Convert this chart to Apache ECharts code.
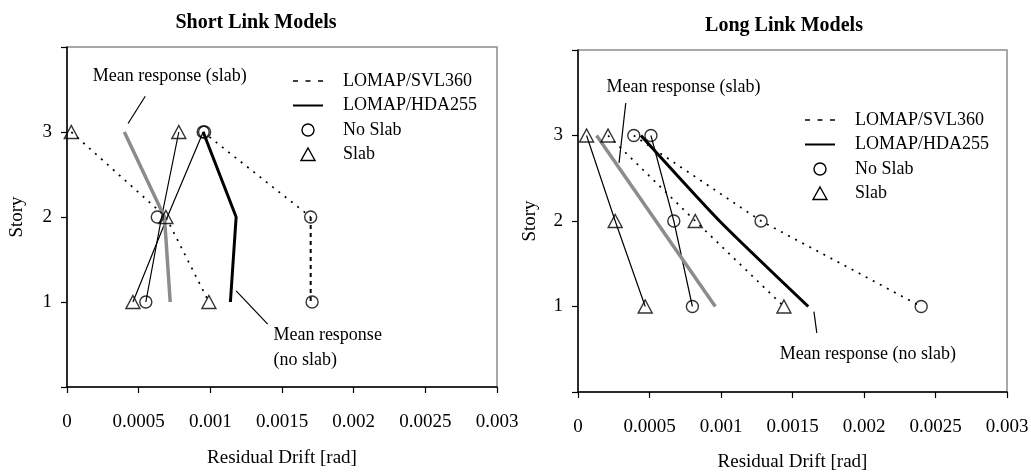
<!DOCTYPE html>
<html>
<head>
<meta charset="utf-8">
<script src="https://cdn.jsdelivr.net/npm/echarts@6/dist/echarts.min.js"></script>
<style>
html,body{margin:0;padding:0;background:#fff;}
#c{width:1031px;height:472px;}
</style>
</head>
<body>
<div id="c"></div>
<script>
// ---------- DATA ----------
const xTicks = [0, 0.0005, 0.001, 0.0015, 0.002, 0.0025, 0.003];
const yTicks = [1, 2, 3];
const legendNames = ['LOMAP/SVL360', 'LOMAP/HDA255', 'No Slab', 'Slab'];

// Short link models: [drift, story]
const shortSvlSlab = [[0.00003, 3], [0.00069, 2], [0.00099, 1]];
const shortSvlNoSlabUpper = [[0.00095, 3], [0.0017, 2]];
const shortSvlNoSlabLower = [[0.0017, 2], [0.0017, 1]];
const shortHdaA = [[0.00046, 1], [0.0007, 2], [0.00095, 3]];
const shortHdaB = [[0.00055, 1], [0.00066, 2], [0.00078, 3]];
const shortMeanSlab = [[0.0004, 3], [0.00068, 2], [0.00072, 1]];
const shortMeanNoSlab = [[0.00095, 3], [0.00118, 2], [0.00114, 1]];
const shortCircles = [[0.00095, 3], [0.00096, 3], [0.00063, 2], [0.00055, 1], [0.0017, 2], [0.00171, 1]];
const shortTriangles = [[0.00003, 3], [0.00078, 3], [0.00069, 2], [0.00046, 1], [0.00099, 1]];

// Long link models
const longSvlSlab = [[0.00021, 3], [0.00082, 2], [0.00144, 1]];
const longSvlNoSlab = [[0.00039, 3], [0.00128, 2], [0.0024, 1]];
const longHdaSlab = [[0.00006, 3], [0.00026, 2], [0.00047, 1]];
const longHdaNoSlab = [[0.00051, 3], [0.00067, 2], [0.0008, 1]];
const longMeanSlab = [[0.00013, 3], [0.00096, 1]];
const longMeanNoSlab = [[0.00044, 3], [0.00099, 2], [0.00161, 1]];
const longCircles = [[0.00039, 3], [0.00051, 3], [0.00067, 2], [0.00128, 2], [0.0008, 1], [0.0024, 1]];
const longTriangles = [[0.00006, 3], [0.00021, 3], [0.00026, 2], [0.00082, 2], [0.00047, 1], [0.00144, 1]];

// Annotations (data coordinates)
const annotations = [
  {grid: 0, text: 'Mean response (slab)', at: [0.00018, 3.66], line: [[0.000546, 3.42], [0.000426, 3.10]]},
  {grid: 0, text: 'Mean response\n(no slab)', at: [0.00144, 0.46], line: [[0.00118, 1.13], [0.0014, 0.74]]},
  {grid: 1, text: 'Mean response (slab)', at: [0.0002, 3.56], line: [[0.000334, 3.38], [0.000287, 2.68]]},
  {grid: 1, text: 'Mean response (no slab)', at: [0.00141, 0.44], line: [[0.00165, 0.94], [0.00167, 0.69]]}
];

// ---------- OPTION ----------
const FONT = 'Liberation Serif';
const chart = echarts.init(document.getElementById('c'), null, {renderer: 'canvas'});

function xAxis(gi, labelMargin, nameGap) {
  return {
    type: 'value', gridIndex: gi, min: 0, max: 0.003, interval: 0.0005,
    name: 'Residual Drift [rad]', nameLocation: 'middle', nameGap: nameGap,
    nameTextStyle: {fontFamily: FONT, fontSize: 19, color: '#000'},
    axisLine: {show: true, lineStyle: {color: '#000', width: 1.5}},
    axisTick: {show: true, inside: false, length: 6, lineStyle: {color: '#000', width: 1.2}},
    axisLabel: {margin: labelMargin, fontFamily: FONT, fontSize: 19, color: '#000',
      formatter: v => { const r = +(+v).toFixed(4); return xTicks.indexOf(r) >= 0 ? String(r) : ''; }},
    splitLine: {show: false}
  };
}
function yAxis(gi, gap) {
  return {
    type: 'value', gridIndex: gi, min: 0, max: 4, interval: 1,
    name: 'Story', nameLocation: 'middle', nameGap: gap, nameRotate: 90,
    nameTextStyle: {fontFamily: FONT, fontSize: 19, color: '#000'},
    axisLine: {show: true, lineStyle: {color: '#000', width: 1.5}},
    axisTick: {show: true, inside: false, length: 6, lineStyle: {color: '#000', width: 1.2}},
    axisLabel: {margin: 15, fontFamily: FONT, fontSize: 19, color: '#000',
      formatter: v => yTicks.indexOf(v) >= 0 ? String(v) : ''},
    splitLine: {show: false}
  };
}

const dotted = {color: '#000', width: 1.7, type: [2, 6]};
const thin = {color: '#000', width: 1.2};
const thickBlack = {color: '#000', width: 3};
const thickGray = {color: '#8c8c8c', width: 3.5};

function lineSeries(name, data, gi, style, extra) {
  return Object.assign({
    name: name, type: 'line', xAxisIndex: gi, yAxisIndex: gi, data: data,
    symbol: 'none', lineStyle: style, itemStyle: {color: '#000'}, silent: true, animation: false, z: 2
  }, extra || {});
}
function markerSeries(name, data, gi, symbol, size) {
  return {
    name: name, type: 'scatter', xAxisIndex: gi, yAxisIndex: gi, data: data,
    symbol: symbol, symbolSize: size,
    itemStyle: {color: 'rgba(255,255,255,0)', borderColor: '#000', borderWidth: 1.4},
    animation: false, z: 5
  };
}

const option = {
  backgroundColor: '#fff',
  animation: false,
  title: [
    {text: 'Short Link Models', left: 251, top: 8, textAlign: 'center',
     textStyle: {fontFamily: FONT, fontSize: 20, fontWeight: 'bold', color: '#000'}},
    {text: 'Long Link Models', left: 779, top: 11, textAlign: 'center',
     textStyle: {fontFamily: FONT, fontSize: 20, fontWeight: 'bold', color: '#000'}}
  ],
  grid: [
    {left: 67, right: 534, top: 47, bottom: 85, show: true, borderColor: '#8c8c8c', borderWidth: 1.5,
     containLabel: false, outerBoundsMode: 'none'},
    {left: 578, right: 24, top: 50, bottom: 80, show: true, borderColor: '#8c8c8c', borderWidth: 1.5,
     containLabel: false, outerBoundsMode: 'none'}
  ],
  xAxis: [xAxis(0, 26, 62), xAxis(1, 26, 61)],
  yAxis: [yAxis(0, 40), yAxis(1, 38)],
  series: [
    // Short
    lineSeries('LOMAP/SVL360', shortSvlSlab, 0, dotted),
    lineSeries('LOMAP/SVL360', shortSvlNoSlabUpper, 0, dotted),
    lineSeries('LOMAP/SVL360', shortSvlNoSlabLower, 0, {color: '#000', width: 2, type: [4, 4]}),
    lineSeries('LOMAP/HDA255', shortHdaA, 0, thin),
    lineSeries('LOMAP/HDA255', shortHdaB, 0, thin),
    lineSeries('Mean slab', shortMeanSlab, 0, thickGray),
    lineSeries('Mean no slab', shortMeanNoSlab, 0, thickBlack),
    markerSeries('No Slab', shortCircles, 0, 'circle', 12),
    markerSeries('Slab', shortTriangles, 0, 'triangle', [14, 13]),
    // Long
    lineSeries('LOMAP/SVL360', longSvlSlab, 1, dotted),
    lineSeries('LOMAP/SVL360', longSvlNoSlab, 1, dotted),
    lineSeries('LOMAP/HDA255', longHdaSlab, 1, thin),
    lineSeries('LOMAP/HDA255', longHdaNoSlab, 1, thin),
    lineSeries('Mean slab', longMeanSlab, 1, thickGray),
    lineSeries('Mean no slab', longMeanNoSlab, 1, thickBlack, {smooth: 0.2}),
    markerSeries('No Slab', longCircles, 1, 'circle', 12),
    markerSeries('Slab', longTriangles, 1, 'triangle', [14, 13])
  ]
};
chart.setOption(option);

const graphics = [];
// Annotation texts and leader lines placed through the axes' own scales
annotations.forEach(a => {
  const p = chart.convertToPixel({gridIndex: a.grid}, a.at);
  const l0 = chart.convertToPixel({gridIndex: a.grid}, a.line[0]);
  const l1 = chart.convertToPixel({gridIndex: a.grid}, a.line[1]);
  graphics.push({type: 'text', x: p[0], y: p[1], silent: true,
    style: {text: a.text, fontFamily: FONT, fontSize: 18, fill: '#000', lineHeight: 25, verticalAlign: 'middle', align: 'left'}});
  graphics.push({type: 'line', silent: true,
    shape: {x1: l0[0], y1: l0[1], x2: l1[0], y2: l1[1]}, style: {stroke: '#000', lineWidth: 1.2}});
});

// Legend boxes (key), one per panel
const legendOrigins = [[293, 81], [805, 120]];
const ROW = 24.5;
legendOrigins.forEach(o => {
  const x = o[0], y = o[1];
  const kids = [];
  kids.push({type: 'line', shape: {x1: x, y1: y, x2: x + 30, y2: y},
    style: {stroke: '#000', lineWidth: 1.5, lineDash: [5, 7.5]}});
  kids.push({type: 'line', shape: {x1: x, y1: y + ROW, x2: x + 30, y2: y + ROW},
    style: {stroke: '#000', lineWidth: 2}});
  kids.push({type: 'circle', shape: {cx: x + 15, cy: y + 2 * ROW, r: 6},
    style: {fill: 'none', stroke: '#000', lineWidth: 1.4}});
  kids.push({type: 'polygon', shape: {points: [[x + 15, y + 3 * ROW - 6.5], [x + 22, y + 3 * ROW + 6], [x + 8, y + 3 * ROW + 6]]},
    style: {fill: 'none', stroke: '#000', lineWidth: 1.4}});
  legendNames.forEach((n, i) => {
    kids.push({type: 'text', x: x + 50, y: y + i * ROW,
      style: {text: n, fontFamily: FONT, fontSize: 18, fill: '#000', verticalAlign: 'middle', align: 'left'}});
  });
  graphics.push({type: 'group', silent: true, children: kids});
});
chart.setOption({graphic: graphics});
</script>
</body>
</html>
